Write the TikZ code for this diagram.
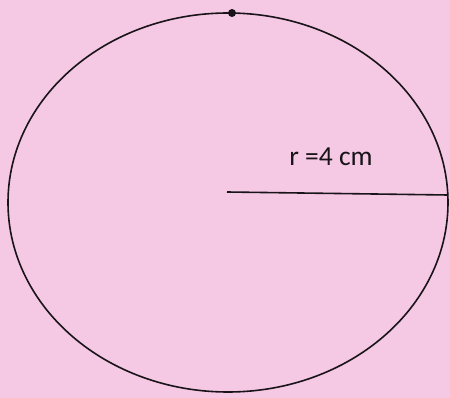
\documentclass[tikz,border=0pt]{standalone}
\usepackage{fontspec}
\setmainfont{Carlito}
\definecolor{bgpink}{RGB}{245,200,228}
\definecolor{inkc}{RGB}{25,20,25}
\begin{document}
\begin{tikzpicture}[x=1pt,y=-1pt,
  outline/.style={draw=inkc,line width=1.6pt},
  lbl/.style={font=\fontsize{27.5}{32}\selectfont,text=inkc,inner sep=0pt}]
\fill[bgpink] (0,0) rectangle (450,398);
\useasboundingbox (0,0) rectangle (450,398);
\coordinate (c) at (228,202.5);
\draw[outline] (c) ellipse [x radius=220, y radius=189.5];
\coordinate (o) at (227,192);
\coordinate (e) at (448,195);
\draw[outline] (o) -- (e);
\fill[inkc] (232,13) circle (4) node (dot) {};
\node[lbl] (r) at (331,157) {r =4 cm};
\end{tikzpicture}
\end{document}
